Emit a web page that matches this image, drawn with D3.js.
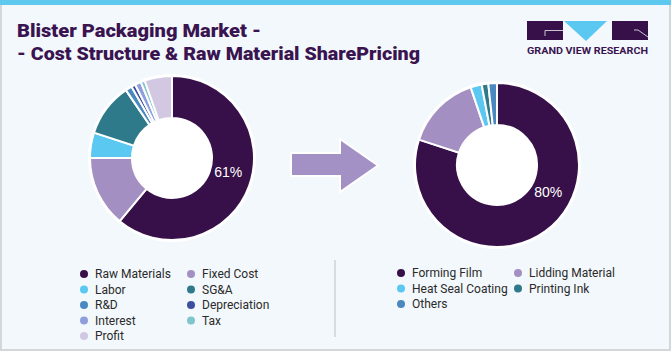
<!DOCTYPE html>
<html>
<head>
<meta charset="utf-8">
<script src="https://cdn.jsdelivr.net/npm/d3@7"></script>
<style>
  body { margin: 0; background: #fff; }
  svg { display: block; }
  .leg text { font-family: Roboto, "Liberation Sans", sans-serif; font-size: 12px; fill: #2a2a2a; }
</style>
</head>
<body>
<div id="chart"></div>
<script>
// cost structure (left donut)
var costLabels = ['Raw Materials', 'Fixed Cost', 'Labor', 'SG&A', 'R&D', 'Depreciation', 'Interest', 'Tax', 'Profit'];
var costValues = [61, 14, 5, 10.5, 1.3, 0.8, 1.2, 0.8, 5.4];
var costColors = ['#371049', '#a48fc3', '#5bc8f2', '#2f7a8a', '#4a88c0', '#3f4fa0', '#8f9fdc', '#7fc6cc', '#d2c8e2'];

// raw material share (right donut)
var rawLabels = ['Forming Film', 'Lidding Material', 'Heat Seal Coating', 'Printing Ink', 'Others'];
var rawValues = [80, 14.8, 2.2, 1.3, 1.7];
var rawColors = ['#371049', '#a48fc3', '#5bc8f2', '#2f7a8a', '#4a88c0'];

var W = 671, H = 351;

var svg = d3.select('#chart').append('svg')
  .attr('width', W)
  .attr('height', H);

// frame
svg.append('rect').attr('width', W).attr('height', H).attr('fill', '#d4d7da');
svg.append('rect').attr('x', 2).attr('y', 0).attr('width', W - 4).attr('height', H - 2).attr('fill', '#f3f8fc');
svg.append('rect').attr('x', 0).attr('y', 0).attr('width', W).attr('height', 5).attr('fill', '#5ec8ef');

// title
var title = svg.append('g')
  .attr('font-family', 'Roboto, "DejaVu Sans", sans-serif')
  .attr('font-weight', 900)
  .attr('font-size', 18)
  .attr('fill', '#3a1450');
title.append('text').attr('x', 17).attr('y', 37)
  .attr('textLength', 244).attr('lengthAdjust', 'spacingAndGlyphs')
  .text('Blister Packaging Market -');
title.append('text').attr('x', 17).attr('y', 60)
  .attr('textLength', 403).attr('lengthAdjust', 'spacingAndGlyphs')
  .text('- Cost Structure & Raw Material SharePricing');

// logo
var logo = svg.append('g');
logo.append('rect').attr('x', 527).attr('y', 21).attr('width', 36).attr('height', 19).attr('fill', '#371049');
logo.append('path').attr('d', 'M545,36V30.5H563').attr('fill', 'none').attr('stroke', '#c9c3d3').attr('stroke-width', 1);
logo.append('path').attr('d', 'M564,21H607L586,41Z').attr('fill', '#5bc8f2');
logo.append('rect').attr('x', 612).attr('y', 21).attr('width', 36).attr('height', 19).attr('fill', '#371049');
logo.append('path').attr('d', 'M634,30H638L648,37').attr('fill', 'none').attr('stroke', '#c9c3d3').attr('stroke-width', 1);
logo.append('text')
  .attr('x', 527).attr('y', 54)
  .attr('textLength', 121).attr('lengthAdjust', 'spacingAndGlyphs')
  .attr('font-family', 'Roboto, "DejaVu Sans", sans-serif')
  .attr('font-weight', 700)
  .attr('font-size', 8.5)
  .attr('fill', '#3a1450')
  .text('GRAND VIEW RESEARCH');

var pie = d3.pie().sort(null).value(function(d) { return d; });
var arc = d3.arc().innerRadius(40).outerRadius(82);

function drawDonut(cx, cy, values, colors, labelAngle) {
  var g = svg.append('g').attr('transform', 'translate(' + cx + ',' + cy + ')');
  g.append('circle').attr('r', 84).attr('fill', '#fff');
  g.selectAll('path')
    .data(pie(values))
    .enter().append('path')
    .attr('d', arc)
    .attr('fill', function(d, i) { return colors[i]; })
    .attr('stroke', '#fff')
    .attr('stroke-width', 2);
  g.append('circle').attr('r', 39).attr('fill', '#fff');
  var p = d3.pointRadial(labelAngle * Math.PI / 180, 58);
  g.append('text')
    .attr('x', p[0]).attr('y', p[1])
    .attr('dy', '0.35em')
    .attr('text-anchor', 'middle')
    .attr('font-family', '"Liberation Sans", Arial, sans-serif')
    .attr('font-size', 14)
    .attr('fill', '#fff')
    .text(Math.round(values[0]) + '%');
}

drawDonut(172, 158, costValues, costColors, 104);
drawDonut(497, 165, rawValues, rawColors, 118);

// arrow
svg.append('path')
  .attr('d', 'M291,153H340V139L378,165.5L340,192V176H291Z')
  .attr('fill', '#a391c5')
  .attr('stroke', '#fff')
  .attr('stroke-width', 2);

// legends
function drawLegend(x0, y0, colW, labels, colors) {
  var g = svg.append('g').attr('class', 'leg');
  var items = g.selectAll('g')
    .data(labels)
    .enter().append('g')
    .attr('transform', function(d, i) {
      return 'translate(' + (x0 + (i % 2) * colW) + ',' + (y0 + Math.floor(i / 2) * 15.5) + ')';
    });
  items.append('circle').attr('r', 4).attr('fill', function(d, i) { return colors[i]; });
  items.append('text').attr('x', 11).attr('dy', '0.36em').text(function(d) { return d; });
}

drawLegend(84, 274, 107, costLabels, costColors);
drawLegend(401, 273, 117, rawLabels, rawColors);

// separator
svg.append('line')
  .attr('x1', 335).attr('x2', 335)
  .attr('y1', 260).attr('y2', 337)
  .attr('stroke', '#c8c8c8').attr('stroke-width', 1.2);
</script>
</body>
</html>
